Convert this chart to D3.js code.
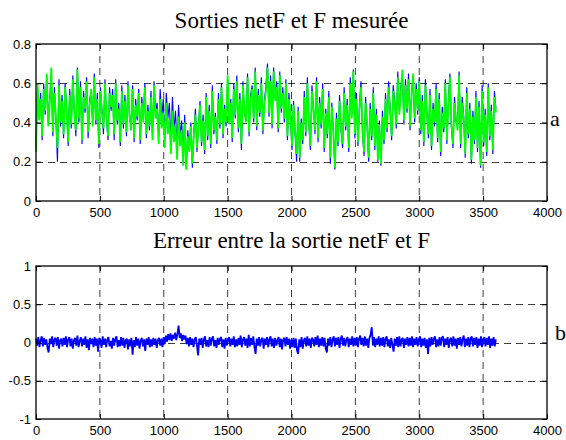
<!DOCTYPE html>
<html>
<head>
<meta charset="utf-8">
<script src="https://cdn.jsdelivr.net/npm/d3@7"></script>
<style>
  body { margin: 0; background: #fff; }
  svg { display: block; }
</style>
</head>
<body>
<svg id="chart"></svg>
<script>
// Axes et graduations
const xTicks = [0, 500, 1000, 1500, 2000, 2500, 3000, 3500, 4000];
const yTicksHaut = [0, 0.2, 0.4, 0.6, 0.8];
const yTicksBas = [-1, -0.5, 0, 0.5, 1];
const titreHaut = "Sorties netF et F mesurée";
const titreBas = "Erreur entre la sortie netF et F";

// Sorties (un point tous les 12 échantillons, de 0 à 3600)
const pasSortie = 12;
const netF = [
  0.28, 0.58, 0.43, 0.55, 0.31, 0.60, 0.44, 0.63, 0.40, 0.53, 0.65, 0.33, 0.58, 0.41, 0.20, 0.62, 0.38, 0.54, 0.32, 0.60, 0.47, 0.28, 0.57, 0.37, 0.64,
  0.46, 0.33, 0.68, 0.40, 0.61, 0.29, 0.56, 0.45, 0.63, 0.32, 0.52, 0.55, 0.40, 0.65, 0.39, 0.55, 0.27, 0.58, 0.47, 0.34, 0.62, 0.41, 0.31, 0.58, 0.46,
  0.57, 0.31, 0.62, 0.39, 0.50, 0.28, 0.59, 0.37, 0.54, 0.33, 0.61, 0.42, 0.38, 0.59, 0.30, 0.52, 0.41, 0.57, 0.29, 0.53, 0.42, 0.60, 0.32, 0.49, 0.36,
  0.56, 0.33, 0.61, 0.45, 0.50, 0.33, 0.57, 0.42, 0.52, 0.33, 0.55, 0.42, 0.50, 0.30, 0.53, 0.36, 0.46, 0.27, 0.49, 0.33, 0.41, 0.23, 0.44, 0.17, 0.36,
  0.27, 0.40, 0.17, 0.36, 0.47, 0.25, 0.39, 0.51, 0.28, 0.44, 0.24, 0.55, 0.31, 0.49, 0.27, 0.59, 0.34, 0.45, 0.29, 0.55, 0.37, 0.60, 0.32, 0.49, 0.38,
  0.62, 0.41, 0.52, 0.30, 0.60, 0.42, 0.64, 0.35, 0.55, 0.26, 0.61, 0.44, 0.42, 0.65, 0.33, 0.54, 0.59, 0.40, 0.68, 0.36, 0.57, 0.43, 0.63, 0.34, 0.51,
  0.59, 0.70, 0.43, 0.64, 0.37, 0.68, 0.53, 0.61, 0.35, 0.66, 0.45, 0.58, 0.40, 0.62, 0.31, 0.55, 0.42, 0.26, 0.51, 0.34, 0.20, 0.48, 0.20, 0.42, 0.29,
  0.56, 0.33, 0.63, 0.39, 0.26, 0.59, 0.48, 0.34, 0.63, 0.30, 0.53, 0.37, 0.60, 0.25, 0.47, 0.32, 0.56, 0.19, 0.50, 0.34, 0.16, 0.45, 0.28, 0.54, 0.36,
  0.27, 0.58, 0.36, 0.52, 0.25, 0.63, 0.44, 0.67, 0.32, 0.55, 0.28, 0.49, 0.61, 0.34, 0.23, 0.53, 0.38, 0.20, 0.50, 0.31, 0.58, 0.26, 0.47, 0.20, 0.41,
  0.18, 0.46, 0.29, 0.55, 0.35, 0.61, 0.47, 0.31, 0.59, 0.51, 0.37, 0.66, 0.46, 0.58, 0.65, 0.39, 0.62, 0.45, 0.65, 0.36, 0.56, 0.63, 0.40, 0.60, 0.44,
  0.63, 0.34, 0.54, 0.28, 0.62, 0.45, 0.32, 0.57, 0.26, 0.50, 0.38, 0.60, 0.30, 0.55, 0.23, 0.48, 0.35, 0.62, 0.29, 0.51, 0.65, 0.37, 0.27, 0.53, 0.40,
  0.38, 0.66, 0.27, 0.53, 0.43, 0.22, 0.58, 0.32, 0.50, 0.19, 0.46, 0.29, 0.56, 0.25, 0.51, 0.17, 0.59, 0.28, 0.47, 0.23, 0.60, 0.31, 0.49, 0.24, 0.56,
  0.47
];
const F = [
  0.25, 0.60, 0.41, 0.52, 0.33, 0.57, 0.46, 0.65, 0.38, 0.50, 0.68, 0.35, 0.55, 0.43, 0.27, 0.59, 0.40, 0.51, 0.34, 0.58, 0.45, 0.30, 0.54, 0.39, 0.62,
  0.44, 0.36, 0.67, 0.42, 0.58, 0.31, 0.53, 0.47, 0.61, 0.35, 0.49, 0.57, 0.38, 0.63, 0.41, 0.52, 0.29, 0.56, 0.45, 0.37, 0.60, 0.43, 0.33, 0.55, 0.48,
  0.54, 0.34, 0.60, 0.41, 0.47, 0.30, 0.56, 0.39, 0.51, 0.35, 0.59, 0.44, 0.36, 0.57, 0.32, 0.49, 0.43, 0.55, 0.31, 0.50, 0.40, 0.58, 0.34, 0.46, 0.38,
  0.53, 0.31, 0.59, 0.42, 0.47, 0.29, 0.52, 0.37, 0.45, 0.27, 0.50, 0.34, 0.42, 0.24, 0.46, 0.30, 0.39, 0.21, 0.43, 0.28, 0.36, 0.18, 0.40, 0.16, 0.33,
  0.25, 0.38, 0.19, 0.34, 0.44, 0.27, 0.37, 0.49, 0.30, 0.41, 0.26, 0.53, 0.33, 0.46, 0.29, 0.56, 0.36, 0.43, 0.31, 0.52, 0.39, 0.58, 0.34, 0.47, 0.40,
  0.64, 0.39, 0.50, 0.32, 0.57, 0.44, 0.61, 0.37, 0.52, 0.29, 0.59, 0.46, 0.40, 0.63, 0.35, 0.51, 0.57, 0.42, 0.66, 0.38, 0.54, 0.45, 0.60, 0.36, 0.49,
  0.56, 0.68, 0.45, 0.61, 0.39, 0.66, 0.51, 0.58, 0.37, 0.64, 0.47, 0.55, 0.42, 0.60, 0.33, 0.52, 0.44, 0.28, 0.49, 0.36, 0.24, 0.46, 0.22, 0.40, 0.31,
  0.53, 0.35, 0.60, 0.41, 0.28, 0.56, 0.46, 0.36, 0.61, 0.32, 0.50, 0.39, 0.57, 0.27, 0.45, 0.34, 0.53, 0.22, 0.48, 0.36, 0.17, 0.42, 0.30, 0.51, 0.38,
  0.29, 0.55, 0.38, 0.49, 0.27, 0.60, 0.42, 0.66, 0.34, 0.52, 0.30, 0.46, 0.58, 0.36, 0.25, 0.50, 0.40, 0.22, 0.47, 0.33, 0.55, 0.28, 0.44, 0.21, 0.39,
  0.19, 0.43, 0.31, 0.52, 0.37, 0.58, 0.45, 0.33, 0.56, 0.48, 0.39, 0.63, 0.44, 0.55, 0.67, 0.41, 0.59, 0.47, 0.62, 0.38, 0.53, 0.65, 0.42, 0.57, 0.46,
  0.61, 0.36, 0.51, 0.30, 0.59, 0.43, 0.34, 0.54, 0.28, 0.47, 0.40, 0.57, 0.32, 0.52, 0.25, 0.45, 0.37, 0.60, 0.31, 0.48, 0.63, 0.39, 0.29, 0.50, 0.42,
  0.36, 0.64, 0.29, 0.50, 0.41, 0.24, 0.55, 0.34, 0.47, 0.21, 0.43, 0.31, 0.53, 0.27, 0.48, 0.18, 0.56, 0.30, 0.44, 0.25, 0.58, 0.33, 0.46, 0.26, 0.53,
  0.45
];

// Erreur netF - F (un point tous les 9 échantillons)
const pasErreur = 9;
const erreur = [
  0.05, -0.04, 0.07, -0.06, 0.03, 0.08, -0.05, 0.06, -0.03, 0.04, -0.07, -0.13, 0.05, -0.02, 0.08, -0.06, 0.04, 0.06, -0.04, 0.07, -0.08, 0.03, 0.05, -0.05, 0.06,
  -0.03, 0.08, -0.06, 0.04, 0.07, -0.05, 0.05, -0.08, 0.03, 0.06, -0.04, 0.09, -0.06, 0.02, 0.07, -0.05, 0.05, -0.03, 0.08, -0.07, 0.04, -0.10, 0.06, -0.02, 0.05,
  -0.06, 0.07, -0.04, 0.05, -0.12, 0.06, 0.03, -0.07, 0.08, -0.03, 0.05, -0.06, 0.04, 0.07, -0.05, 0.02, -0.08, 0.06, -0.04, 0.05, 0.08, -0.06, 0.03, -0.05, 0.07,
  -0.04, 0.06, -0.07, 0.03, 0.05, -0.09, 0.04, -0.05, 0.06, -0.16, 0.03, -0.06, 0.07, -0.04, 0.05, -0.08, 0.02, 0.06, -0.05, 0.04, -0.11, 0.05, -0.03, 0.07, -0.06,
  0.04, -0.05, 0.06, -0.03, 0.05, -0.07, 0.03, 0.06, -0.04, 0.05, -0.06, 0.07, -0.02, 0.09, 0.01, 0.11, 0.03, 0.12, 0.02, 0.10, 0.05, 0.13, 0.03, 0.11, 0.22,
  0.06, 0.12, 0.02, 0.10, 0.04, 0.09, -0.02, 0.06, -0.05, 0.07, -0.03, 0.05, -0.06, 0.04, 0.07, -0.04, -0.17, 0.05, -0.03, 0.06, -0.07, 0.04, 0.08, -0.05, 0.03,
  -0.06, 0.07, -0.04, 0.05, 0.08, -0.05, 0.03, -0.07, 0.06, -0.03, 0.05, 0.07, -0.06, 0.04, -0.08, 0.06, -0.04, 0.03, 0.07, -0.05, 0.05, -0.03, 0.08, -0.06, 0.04,
  -0.05, 0.06, -0.03, 0.09, -0.06, 0.04, 0.07, -0.04, 0.05, -0.07, 0.10, -0.05, 0.06, -0.03, 0.08, -0.06, -0.15, 0.05, -0.04, 0.07, -0.05, 0.04, 0.06, -0.08, 0.05,
  -0.03, 0.07, -0.06, 0.04, 0.08, -0.05, 0.05, -0.07, 0.06, -0.04, 0.03, 0.07, -0.06, 0.05, -0.09, 0.04, 0.06, -0.05, 0.07, -0.03, 0.05, -0.08, 0.04, -0.06, 0.06,
  -0.07, 0.05, -0.10, -0.15, 0.04, -0.06, 0.07, -0.08, 0.03, 0.06, -0.05, 0.08, -0.04, 0.05, -0.07, 0.06, 0.04, -0.05, 0.07, -0.03, 0.09, -0.06, 0.05, -0.04, 0.07,
  -0.05, 0.06, -0.08, -0.13, 0.05, -0.04, 0.07, -0.06, 0.04, 0.08, -0.05, 0.06, -0.03, 0.07, -0.07, 0.05, 0.09, -0.04, 0.06, -0.05, 0.04, 0.07, -0.06, 0.05, -0.03,
  0.08, -0.05, 0.06, -0.04, 0.07, -0.06, 0.05, 0.09, -0.03, 0.06, -0.05, 0.08, -0.04, 0.05, -0.07, 0.06, 0.10, 0.20, -0.04, 0.07, -0.06, 0.05, -0.03, 0.08, -0.05,
  0.06, -0.04, 0.07, -0.06, 0.05, 0.08, -0.05, 0.04, -0.07, 0.06, -0.03, -0.12, 0.05, -0.04, 0.07, -0.06, 0.08, -0.05, 0.04, 0.06, -0.07, 0.05, -0.03, 0.07, -0.05,
  0.06, -0.04, 0.08, -0.06, 0.05, -0.03, 0.07, -0.05, 0.04, 0.08, -0.06, 0.05, -0.04, 0.06, -0.07, 0.04, -0.15, 0.06, -0.05, 0.07, -0.03, 0.05, 0.08, -0.06, 0.04,
  -0.05, 0.07, -0.04, 0.06, 0.08, -0.06, 0.05, -0.03, 0.07, -0.07, 0.04, 0.06, -0.05, 0.08, -0.04, 0.05, -0.08, 0.06, -0.03, 0.07, -0.05, 0.04, 0.09, -0.06, 0.05,
  -0.04, 0.07, -0.06, 0.05, 0.08, -0.05, 0.06, -0.03, 0.07, -0.07, 0.05, -0.04, 0.08, -0.06, 0.04, 0.07, -0.05, 0.06, -0.03, 0.08, -0.07, 0.05, -0.04, 0.07, -0.05,
  0.04
];

const W = 566, H = 440;
const left = 36, right = 547;
const serif = "'Liberation Serif', 'Times New Roman', serif";
const sans = "'Liberation Sans', Arial, sans-serif";

const svg = d3.select("#chart").attr("width", W).attr("height", H);

// Dessine un sous-graphe façon MATLAB
function drawPanel(opts) {
    const width = right - left;
    const height = opts.bottom - opts.top;
    const g = svg.append("g").attr("transform", `translate(${left},${opts.top})`);

    const x = d3.scaleLinear().domain([0, 4000]).range([0, width]);
    const y = d3.scaleLinear().domain(opts.yDomain).range([height, 0]);

    // Grille pointillée
    g.append("g").selectAll("line")
        .data(xTicks.slice(1, -1))
        .enter().append("line")
        .attr("x1", d => x(d)).attr("x2", d => x(d))
        .attr("y1", 0).attr("y2", height)
        .attr("stroke", "#000").attr("stroke-width", 1)
        .attr("stroke-dasharray", "7,5").attr("opacity", 0.75);
    g.append("g").selectAll("line")
        .data(opts.yTicks.slice(1, -1))
        .enter().append("line")
        .attr("x1", 0).attr("x2", width)
        .attr("y1", d => Math.round(y(d)) + 0.5).attr("y2", d => Math.round(y(d)) + 0.5)
        .attr("stroke", "#000").attr("stroke-width", 1)
        .attr("stroke-dasharray", "7,5").attr("opacity", 0.75);

    // Courbes
    opts.series.forEach(s => {
        const line = d3.line()
            .x((d, i) => x(i * s.pas))
            .y(d => y(d));
        g.append("path")
            .datum(s.values)
            .attr("fill", "none")
            .attr("stroke", s.color)
            .attr("stroke-width", s.width)
            .attr("stroke-linejoin", "bevel")
            .attr("d", line);
    });

    // Axes (graduations vers l'intérieur)
    const fmt = d => String(d);
    const ax = g.append("g")
        .attr("transform", `translate(0,${height})`)
        .call(d3.axisBottom(x).tickValues(xTicks).tickSizeInner(-5).tickSizeOuter(0).tickPadding(7).tickFormat(fmt));
    const ay = g.append("g")
        .call(d3.axisLeft(y).tickValues(opts.yTicks).tickSizeInner(-5).tickSizeOuter(0).tickPadding(5).tickFormat(fmt));
    g.append("g")
        .call(d3.axisTop(x).tickValues(xTicks).tickSizeInner(-5).tickSizeOuter(0).tickFormat(""));
    g.append("g")
        .attr("transform", `translate(${width},0)`)
        .call(d3.axisRight(y).tickValues(opts.yTicks).tickSizeInner(-5).tickSizeOuter(0).tickFormat(""));

    g.selectAll(".domain").remove();
    g.selectAll(".tick line").attr("stroke", "#000");
    [ax, ay].forEach(a => a.selectAll("text")
        .attr("fill", "#000")
        .style("font-family", sans)
        .style("font-size", "13px"));

    // Cadre
    g.append("rect")
        .attr("x", 0).attr("y", 0)
        .attr("width", width).attr("height", height)
        .attr("fill", "none").attr("stroke", "#000").attr("stroke-width", 1.3);

    // Titre
    svg.append("text")
        .attr("x", left + width / 2)
        .attr("y", opts.titleY)
        .attr("text-anchor", "middle")
        .style("font-family", serif)
        .style("font-size", "23px")
        .text(opts.title);

    // Repère a / b
    svg.append("text")
        .attr("x", opts.labelX)
        .attr("y", opts.top + y(opts.labelV) + opts.labelDy)
        .style("font-family", serif)
        .style("font-size", "22px")
        .text(opts.label);
}

drawPanel({
    top: 44, bottom: 201,
    yDomain: [0, 0.8], yTicks: yTicksHaut,
    title: titreHaut, titleY: 28,
    label: "a", labelX: 550, labelV: 0.4, labelDy: 3,
    series: [
        { values: netF, pas: pasSortie, color: "#0000ff", width: 1.1 },
        { values: F, pas: pasSortie, color: "#00ff00", width: 1.8 }
    ]
});

drawPanel({
    top: 266, bottom: 419,
    yDomain: [-1, 1], yTicks: yTicksBas,
    title: titreBas, titleY: 248,
    label: "b", labelX: 555, labelV: 0, labelDy: -3,
    series: [
        { values: erreur, pas: pasErreur, color: "#0000ff", width: 1.8 }
    ]
});
</script>
</body>
</html>
